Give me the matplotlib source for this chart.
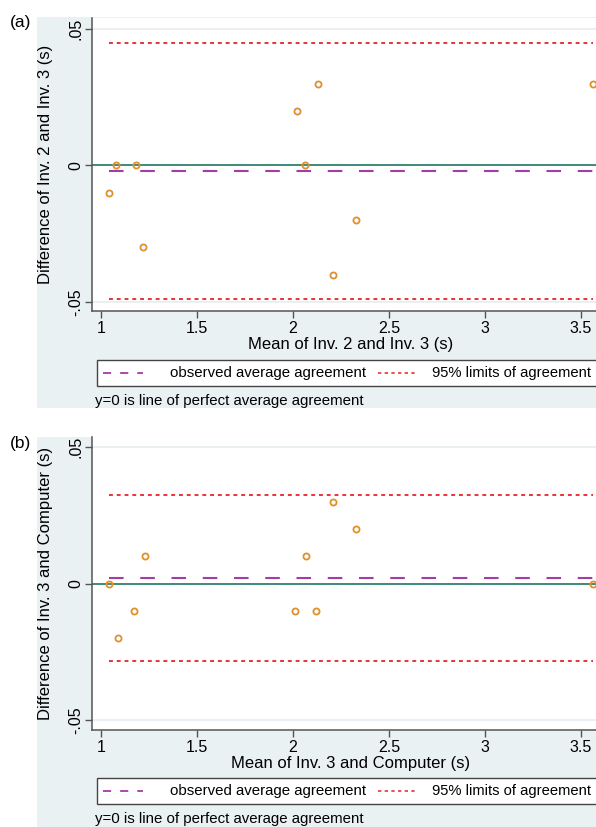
"""
Bland-Altman agreement plots, two panels, Stata s2color look
"""

import matplotlib
matplotlib.use("Agg")
import matplotlib.pyplot as plt
from matplotlib.patches import Rectangle
from matplotlib.lines import Line2D
import numpy as np

plt.rcParams['font.family'] = ['Liberation Sans', 'DejaVu Sans']

# Panel (a): Inv. 2 vs Inv. 3
mean_a = [1.04, 1.08, 1.18, 1.22, 2.02, 2.06, 2.13, 2.21, 2.33, 3.56]
diff_a = [-0.01, 0.0, 0.0, -0.03, 0.02, 0.0, 0.03, -0.04, -0.02, 0.03]

# Panel (b): Inv. 3 vs Computer
mean_b = [1.04, 1.09, 1.17, 1.23, 2.01, 2.07, 2.12, 2.21, 2.33, 3.56]
diff_b = [0.0, -0.02, -0.01, 0.01, -0.01, 0.01, -0.01, 0.03, 0.02, 0.0]

x_ticks = [1, 1.5, 2, 2.5, 3, 3.5]
x_tick_labels = ["1", "1.5", "2", "2.5", "3", "3.5"]
y_ticks = [-0.05, 0, 0.05]
y_tick_labels = ["-.05", "0", ".05"]

panel_tags = ["(a)", "(b)"]
x_titles = ["Mean of Inv. 2 and Inv. 3 (s)", "Mean of Inv. 3 and Computer (s)"]
y_titles = ["Difference of Inv. 2 and Inv. 3 (s)", "Difference of Inv. 3 and Computer (s)"]
legend_labels = ["observed average agreement", "95% limits of agreement"]
note_text = "y=0 is line of perfect average agreement"

BG = "#EAF1F3"
MEAN_C = "#A23CA6"
LOA_C = "#E8343C"
FS = 11.5
FS_SMALL = 10.8
W, H = 596, 827


def fx(px):
    return px / W


def fy(py):
    return 1 - py / H


fig = plt.figure(figsize=(W / 100, H / 100), dpi=100)
fig.patch.set_facecolor("white")

# pixel positions (from top) of graph region, plot region, legend box, note, tag
panels = [
    dict(region=(17, 408), plot=(18, 311), ylim=(-0.0533, 0.054),
         tag_y=22, legend=(360, 386), note_y=401),
    dict(region=(437, 827), plot=(437, 730), ylim=(-0.0537, 0.0537),
         tag_y=443, legend=(778, 804), note_y=819),
]
data = [(mean_a, diff_a), (mean_b, diff_b)]

px_left, px_right = 92, 610

for i, p in enumerate(panels):
    r0, r1 = p["region"]
    fig.patches.append(Rectangle((fx(37), fy(r1)), (W - 37) / W, (r1 - r0) / H,
                                 transform=fig.transFigure, facecolor=BG,
                                 edgecolor="none", zorder=-10))

    t, b = p["plot"]
    ax = fig.add_axes([fx(px_left), fy(b), (px_right - px_left) / W, (b - t) / H])
    ax.set_facecolor("white")

    m = np.array(data[i][0])
    d = np.array(data[i][1])
    avg = d.mean()
    sd = d.std(ddof=1)
    lo, hi = avg - 1.96 * sd, avg + 1.96 * sd
    xr = [m.min(), m.max()]

    for yt in y_ticks:
        ax.axhline(yt, color="#E6EEF0", lw=1.2, zorder=0)
    ax.axhline(0, color="#3E8C78", lw=1.4, zorder=1)
    ax.plot(xr, [avg, avg], color=MEAN_C, lw=1.5, dashes=(7, 8), zorder=2)
    ax.plot(xr, [hi, hi], color=LOA_C, lw=1.4, dashes=(2, 2), zorder=2)
    ax.plot(xr, [lo, lo], color=LOA_C, lw=1.4, dashes=(2, 2), zorder=2)
    ax.plot(m, d, linestyle="none", marker="o", markersize=4.4,
            markerfacecolor="none", markeredgecolor="#E0902C",
            markeredgewidth=1.3, zorder=3, clip_on=False)

    ax.set_xlim(0.953, 3.651)
    ax.set_ylim(*p["ylim"])
    ax.set_xticks(x_ticks)
    ax.set_xticklabels(x_tick_labels, fontsize=FS)
    ax.set_yticks(y_ticks)
    ax.set_yticklabels(y_tick_labels, fontsize=FS, rotation=90, va="center")
    ax.tick_params(direction="out", length=5, width=1, color="#555555", pad=2)
    ax.tick_params(axis="y", pad=1)

    for s in ["top", "right"]:
        ax.spines[s].set_visible(False)
    for s in ["left", "bottom"]:
        ax.spines[s].set_color("#555555")
        ax.spines[s].set_linewidth(1.1)

    ax.set_xlabel(x_titles[i], fontsize=FS + 0.5, labelpad=1)
    ax.set_ylabel(y_titles[i], fontsize=FS + 0.5)
    ax.yaxis.set_label_coords((53 - px_left) / (px_right - px_left), 0.5)

    # legend box drawn the Stata way: white box, two keys side by side
    lt, lb = p["legend"]
    fig.patches.append(Rectangle((fx(97), fy(lb)), (608 - 97) / W, (lb - lt) / H,
                                 transform=fig.transFigure, facecolor="white",
                                 edgecolor="#444444", lw=1.0, zorder=5))
    ly = fy((lt + lb) / 2)
    fig.add_artist(Line2D([fx(103), fx(143)], [ly, ly], color=MEAN_C, lw=1.3,
                          dashes=(4.5, 5), transform=fig.transFigure, zorder=6))
    fig.add_artist(Line2D([fx(378), fx(415)], [ly, ly], color=LOA_C, lw=1.2,
                          dashes=(2, 2), transform=fig.transFigure, zorder=6))
    fig.text(fx(170), ly, legend_labels[0], fontsize=FS_SMALL, va="center", zorder=7)
    fig.text(fx(432), ly, legend_labels[1], fontsize=10.6, va="center", zorder=7)

    fig.text(fx(95), fy(p["note_y"]), note_text, fontsize=FS_SMALL, va="center")
    fig.text(fx(10), fy(p["tag_y"]), panel_tags[i], fontsize=FS + 1, va="center")

fig.savefig("out.png", dpi=100, facecolor="white")
